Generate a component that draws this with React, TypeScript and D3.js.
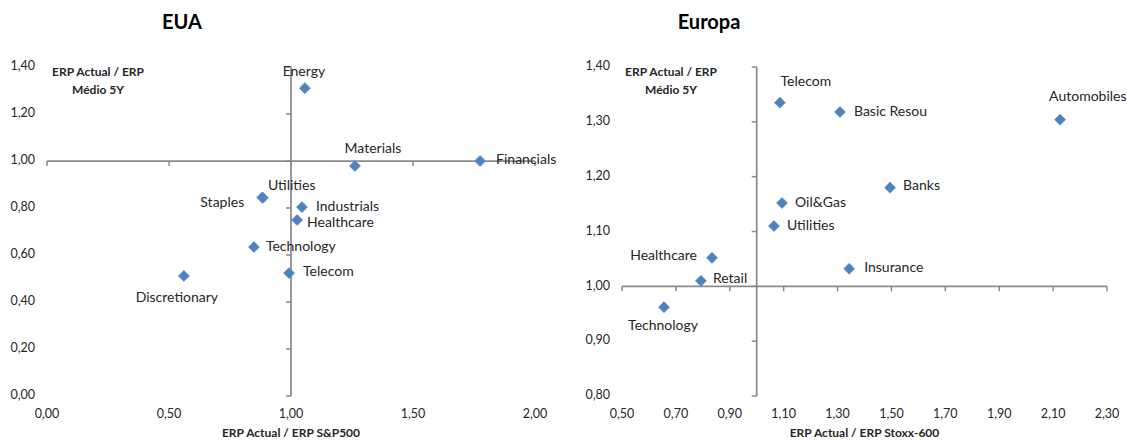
import React from "react";
import * as d3 from "d3";

// ---- EUA (US sectors) ----
const euaSectors = [
  "Energy",
  "Materials",
  "Financials",
  "Utilities",
  "Staples",
  "Industrials",
  "Healthcare",
  "Technology",
  "Telecom",
  "Discretionary",
];
const euaVsIndex = [1.057, 1.262, 1.775, 0.885, 0.882, 1.045, 1.025, 0.848, 0.992, 0.561];
const euaVsHistory = [1.31, 0.979, 1.0, 0.843, 0.845, 0.804, 0.749, 0.634, 0.523, 0.511];
const euaXTicks = [0, 0.5, 1.0, 1.5, 2.0];
const euaYTicks = [0, 0.2, 0.4, 0.6, 0.8, 1.0, 1.2, 1.4];

// ---- Europa sectors ----
const euroSectors = [
  "Telecom",
  "Basic Resou",
  "Automobiles",
  "Banks",
  "Oil&Gas",
  "Utilities",
  "Healthcare",
  "Insurance",
  "Retail",
  "Technology",
];
const euroVsIndex = [1.086, 1.309, 2.126, 1.495, 1.094, 1.064, 0.834, 1.343, 0.793, 0.656];
const euroVsHistory = [1.335, 1.318, 1.304, 1.18, 1.152, 1.11, 1.052, 1.032, 1.01, 0.962];
const euroXTicks = [0.5, 0.7, 0.9, 1.1, 1.3, 1.5, 1.7, 1.9, 2.1, 2.3];
const euroYTicks = [0.8, 0.9, 1.0, 1.1, 1.2, 1.3, 1.4];

type LabelPlace = { dx: number; dy: number; anchor: "start" | "middle" | "end" };

// Data-label placement (offsets from the marker centre, in px)
const euaLabelPlace: Record<string, LabelPlace> = {
  Energy: { dx: -1, dy: -16, anchor: "middle" },
  Materials: { dx: 18, dy: -16, anchor: "middle" },
  Financials: { dx: 16, dy: -1, anchor: "start" },
  Utilities: { dx: 5, dy: -11, anchor: "start" },
  Staples: { dx: -18, dy: 6, anchor: "end" },
  Industrials: { dx: 14, dy: 0, anchor: "start" },
  Healthcare: { dx: 10, dy: 3, anchor: "start" },
  Technology: { dx: 12, dy: 0, anchor: "start" },
  Telecom: { dx: 14, dy: -1, anchor: "start" },
  Discretionary: { dx: -7, dy: 23, anchor: "middle" },
};

const euroLabelPlace: Record<string, LabelPlace> = {
  Telecom: { dx: 26, dy: -20, anchor: "middle" },
  "Basic Resou": { dx: 14, dy: 0, anchor: "start" },
  Automobiles: { dx: -11, dy: -22, anchor: "start" },
  Banks: { dx: 13, dy: -1, anchor: "start" },
  "Oil&Gas": { dx: 13, dy: 0, anchor: "start" },
  Utilities: { dx: 13, dy: 0, anchor: "start" },
  Healthcare: { dx: -15, dy: -1, anchor: "end" },
  Insurance: { dx: 15, dy: 0, anchor: "start" },
  Retail: { dx: 12, dy: -1, anchor: "start" },
  Technology: { dx: -1, dy: 19, anchor: "middle" },
};

const ptLocale = d3.formatLocale({
  decimal: ",",
  thousands: ".",
  grouping: [3],
  currency: ["", "€"],
});
const fmt = ptLocale.format(".2f");

const FONT = "Lato, 'Open Sans', 'DejaVu Sans', sans-serif";
const AXIS_COLOR = "#8a8a8a";
const MARKER_COLOR = "#4f81bd";
const TEXT_COLOR = "#262626";

const diamond = d3.symbol().type(d3.symbolSquare).size(62)();

type PanelProps = {
  title: string;
  titleX: number;
  sectors: string[];
  xs: number[];
  ys: number[];
  xTicks: number[];
  yTicks: number[];
  xRange: [number, number];
  yRange: [number, number];
  cross: number;
  yLabelX: number;
  yTitleX: number;
  xTitle: string;
  place: Record<string, LabelPlace>;
};

function Panel(p: PanelProps) {
  const xScale = d3
    .scaleLinear()
    .domain([p.xTicks[0], p.xTicks[p.xTicks.length - 1]])
    .range(p.xRange);
  const yScale = d3
    .scaleLinear()
    .domain([p.yTicks[0], p.yTicks[p.yTicks.length - 1]])
    .range(p.yRange);

  const xAxisY = yScale(p.cross);
  const yAxisX = xScale(p.cross);
  const xMid = (p.xRange[0] + p.xRange[1]) / 2;

  return (
    <g fontFamily={FONT}>
      <text
        x={p.titleX}
        y={24}
        textAnchor="middle"
        dominantBaseline="middle"
        fontSize={20}
        fontWeight={700}
        fill="#000"
      >
        {p.title}
      </text>

      {/* y-axis title */}
      <text
        x={p.yTitleX}
        y={73}
        textAnchor="middle"
        dominantBaseline="middle"
        fontSize={12}
        fontWeight={700}
        fill={TEXT_COLOR}
      >
        ERP Actual / ERP
      </text>
      <text
        x={p.yTitleX}
        y={91}
        textAnchor="middle"
        dominantBaseline="middle"
        fontSize={12}
        fontWeight={700}
        fill={TEXT_COLOR}
      >
        Médio 5Y
      </text>

      {/* horizontal axis crossing at the reference level */}
      <line
        x1={p.xRange[0]}
        x2={p.xRange[1]}
        y1={xAxisY}
        y2={xAxisY}
        stroke={AXIS_COLOR}
        strokeWidth={1.75}
      />
      {p.xTicks.map((t) => (
        <line
          key={"xt" + t}
          x1={xScale(t)}
          x2={xScale(t)}
          y1={xAxisY}
          y2={xAxisY + 5}
          stroke={AXIS_COLOR}
          strokeWidth={1.5}
        />
      ))}
      {p.xTicks.map((t) => (
        <text
          key={"xl" + t}
          x={xScale(t)}
          y={415}
          textAnchor="middle"
          dominantBaseline="middle"
          fontSize={12.5}
          fill={TEXT_COLOR}
        >
          {fmt(t)}
        </text>
      ))}

      {/* vertical axis crossing at the reference level */}
      <line
        x1={yAxisX}
        x2={yAxisX}
        y1={p.yRange[0]}
        y2={p.yRange[1]}
        stroke={AXIS_COLOR}
        strokeWidth={1.75}
      />
      {p.yTicks.map((t) => (
        <line
          key={"yt" + t}
          x1={yAxisX - 5}
          x2={yAxisX}
          y1={yScale(t)}
          y2={yScale(t)}
          stroke={AXIS_COLOR}
          strokeWidth={1.5}
        />
      ))}
      {p.yTicks.map((t) => (
        <text
          key={"yl" + t}
          x={p.yLabelX}
          y={yScale(t)}
          textAnchor="end"
          dominantBaseline="middle"
          fontSize={12.5}
          fill={TEXT_COLOR}
        >
          {fmt(t)}
        </text>
      ))}

      <text
        x={xMid}
        y={434}
        textAnchor="middle"
        dominantBaseline="middle"
        fontSize={12}
        fontWeight={700}
        fill={TEXT_COLOR}
      >
        {p.xTitle}
      </text>

      {/* sector markers */}
      {p.sectors.map((s, i) => (
        <path
          key={"m" + s}
          d={diamond || ""}
          transform={`translate(${xScale(p.xs[i])},${yScale(p.ys[i])}) rotate(45)`}
          fill={MARKER_COLOR}
          stroke="#6b97cc"
          strokeWidth={0.6}
        />
      ))}

      {/* sector labels */}
      {p.sectors.map((s, i) => {
        const pl = p.place[s];
        return (
          <text
            key={"l" + s}
            x={xScale(p.xs[i]) + pl.dx}
            y={yScale(p.ys[i]) + pl.dy}
            textAnchor={pl.anchor}
            dominantBaseline="middle"
            fontSize={14}
            fill={TEXT_COLOR}
          >
            {s}
          </text>
        );
      })}
    </g>
  );
}

export default function App() {
  return (
    <svg
      width={1127}
      height={442}
      style={{ position: "absolute", left: 0, top: 0, background: "#fff" }}
    >
      <rect width={1127} height={442} fill="#fff" />
      <Panel
        title="EUA"
        titleX={182}
        sectors={euaSectors}
        xs={euaVsIndex}
        ys={euaVsHistory}
        xTicks={euaXTicks}
        yTicks={euaYTicks}
        xRange={[47, 535]}
        yRange={[396, 67]}
        cross={1}
        yLabelX={35}
        yTitleX={98}
        xTitle="ERP Actual / ERP S&P500"
        place={euaLabelPlace}
      />
      <Panel
        title="Europa"
        titleX={709}
        sectors={euroSectors}
        xs={euroVsIndex}
        ys={euroVsHistory}
        xTicks={euroXTicks}
        yTicks={euroYTicks}
        xRange={[622, 1107]}
        yRange={[396, 67]}
        cross={1}
        yLabelX={610}
        yTitleX={671}
        xTitle="ERP Actual / ERP Stoxx-600"
        place={euroLabelPlace}
      />
    </svg>
  );
}
